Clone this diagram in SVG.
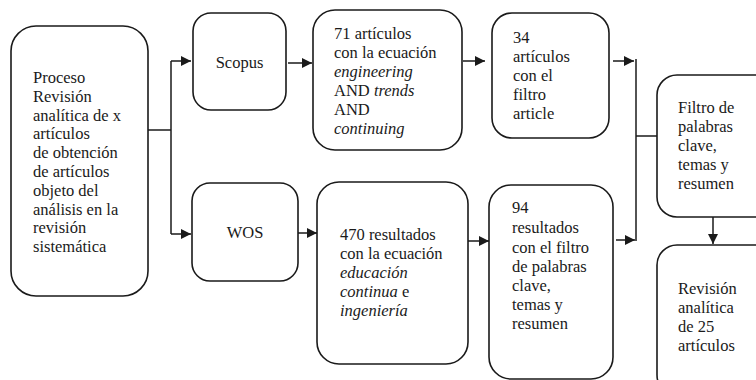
<svg xmlns="http://www.w3.org/2000/svg" width="756" height="380" viewBox="0 0 756 380">
<defs>
<style>
.box{fill:#fff;stroke:#1a1a1a;stroke-width:1.6}
.t{font-family:"Liberation Serif","Times New Roman",serif;font-size:16.5px;fill:#1a1a1a}
.i{font-style:italic}
.c{stroke:#1a1a1a;stroke-width:1.5;fill:none}
</style>
<marker id="ah" markerWidth="10" markerHeight="10" refX="10" refY="5" orient="auto" markerUnits="userSpaceOnUse">
<path d="M0,0 L10,5 L0,10 Z" fill="#1a1a1a"/>
</marker>
</defs>
<rect width="756" height="380" fill="#fff"/>
<g id="connectors">
<path class="c" d="M148,130 H171"/>
<path class="c" d="M171,61 V234"/>
<path class="c" d="M171,61 H191" marker-end="url(#ah)"/>
<path class="c" d="M171,234 H191" marker-end="url(#ah)"/>
<path class="c" d="M288,63 H312" marker-end="url(#ah)"/>
<path class="c" d="M298,233 H317" marker-end="url(#ah)"/>
<path class="c" d="M463,61 H485" marker-end="url(#ah)"/>
<path class="c" d="M468,241 H489" marker-end="url(#ah)"/>
<path class="c" d="M613,61 H634" marker-end="url(#ah)"/>
<path class="c" d="M616,240 H635" marker-end="url(#ah)"/>
<path class="c" d="M636,59 V241"/>
<path class="c" d="M636,136 H657"/>
<path class="c" d="M713,217 V244" marker-end="url(#ah)"/>
</g>
<g id="proceso">
<rect class="box" x="11" y="26" width="137" height="270" rx="25"/>
<text class="t" x="33" y="83">Proceso</text>
<text class="t" x="33" y="101.8">Revisión</text>
<text class="t" x="33" y="120.6">analítica de x</text>
<text class="t" x="33" y="139.4">artículos</text>
<text class="t" x="33" y="158.2">de obtención</text>
<text class="t" x="33" y="177">de artículos</text>
<text class="t" x="33" y="195.8">objeto del</text>
<text class="t" x="33" y="214.6">análisis en la</text>
<text class="t" x="33" y="233.4">revisión</text>
<text class="t" x="33" y="252.2">sistemática</text>
</g>
<g id="scopus">
<rect class="box" x="193" y="13" width="93" height="97" rx="18"/>
<text class="t" x="239.5" y="68" text-anchor="middle">Scopus</text>
</g>
<g id="wos">
<rect class="box" x="192" y="183" width="106" height="98" rx="18"/>
<text class="t" x="245" y="238" text-anchor="middle">WOS</text>
</g>
<g id="scopus71">
<rect class="box" x="313" y="10" width="149" height="140" rx="22"/>
<text class="t" x="334" y="39">71 artículos</text>
<text class="t" x="334" y="58">con la ecuación</text>
<text class="t i" x="334" y="77">engineering</text>
<text class="t" x="334" y="96">AND <tspan class="i">trends</tspan></text>
<text class="t" x="334" y="115">AND</text>
<text class="t i" x="334" y="134">continuing</text>
</g>
<g id="wos470">
<rect class="box" x="317" y="182" width="151" height="182" rx="22"/>
<text class="t" x="340" y="240">470 resultados</text>
<text class="t" x="340" y="259">con la ecuación</text>
<text class="t i" x="340" y="278">educación</text>
<text class="t" x="340" y="297"><tspan class="i">continua</tspan> e</text>
<text class="t i" x="340" y="316">ingeniería</text>
</g>
<g id="scopus34">
<rect class="box" x="492" y="13" width="117" height="125" rx="20"/>
<text class="t" x="513" y="43">34</text>
<text class="t" x="513" y="62">artículos</text>
<text class="t" x="513" y="81">con el</text>
<text class="t" x="513" y="100">filtro</text>
<text class="t" x="513" y="119">article</text>
</g>
<g id="wos94">
<rect class="box" x="489" y="185" width="124" height="194" rx="22"/>
<text class="t" x="512" y="213">94</text>
<text class="t" x="512" y="233">resultados</text>
<text class="t" x="512" y="252.5">con el filtro</text>
<text class="t" x="512" y="272">de palabras</text>
<text class="t" x="512" y="291">clave,</text>
<text class="t" x="512" y="310">temas y</text>
<text class="t" x="512" y="329">resumen</text>
</g>
<g id="filtro">
<rect class="box" x="657" y="75" width="120" height="142" rx="20"/>
<text class="t" x="678" y="113">Filtro de</text>
<text class="t" x="678" y="132">palabras</text>
<text class="t" x="678" y="151">clave,</text>
<text class="t" x="678" y="170">temas y</text>
<text class="t" x="678" y="189">resumen</text>
</g>
<g id="revision">
<rect class="box" x="657" y="245" width="120" height="150" rx="20"/>
<text class="t" x="678" y="294">Revisión</text>
<text class="t" x="678" y="313">analítica</text>
<text class="t" x="678" y="332">de 25</text>
<text class="t" x="678" y="351">artículos</text>
</g>
</svg>
